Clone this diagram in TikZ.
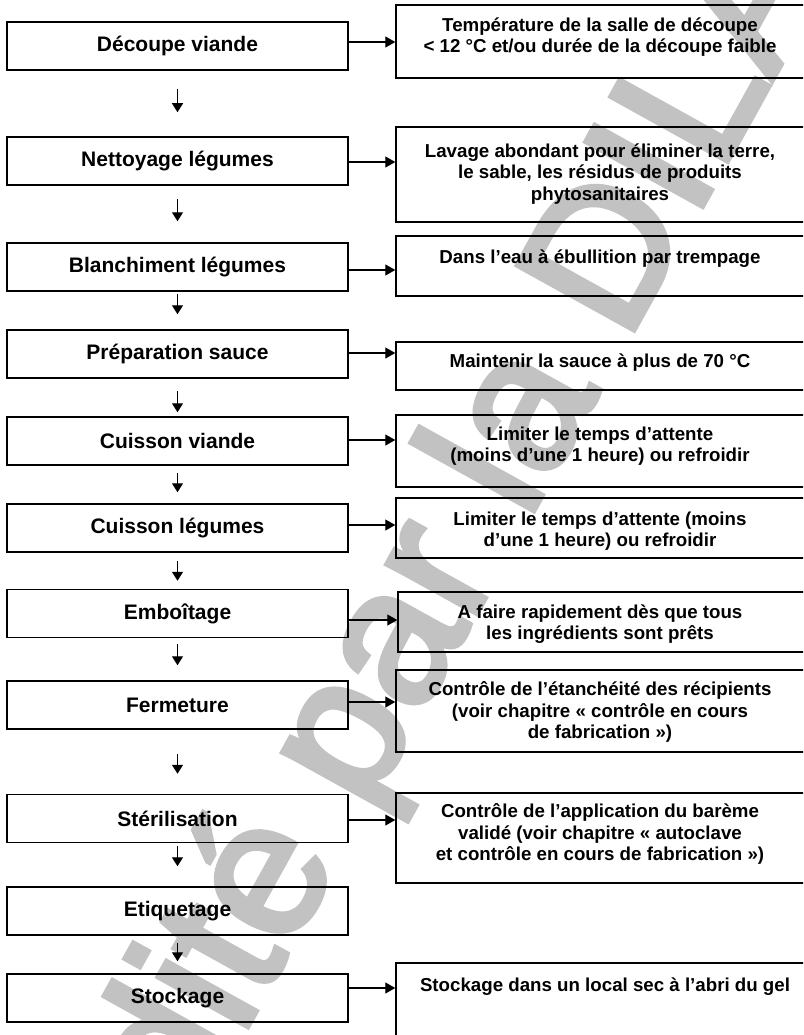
\documentclass[tikz,border=0pt]{standalone}
\usepackage{fontspec}
\setmainfont{Liberation Sans}
\newfontfamily\stampfont[FakeBold=3]{Liberation Sans}
\usetikzlibrary{arrows.meta}
\definecolor{stampgrey}{RGB}{194,194,194}
\begin{document}
\begin{tikzpicture}[x=1pt,y=-1pt,
  lbox/.style={draw, line width=1.5pt, minimum width=341pt, minimum height=48pt,
    inner sep=0pt, font=\fontsize{21}{24}\selectfont\bfseries},
  rbox/.style={draw, line width=1.5pt, inner sep=0pt},
  rtext/.style={align=center, inner sep=0pt,
    font=\fontsize{18.7}{21.5}\selectfont\bfseries},
  varr/.style={line width=1.3pt, -{Triangle[length=9pt,width=11pt]}},
  harr/.style={line width=1.3pt, -{Triangle[length=10pt,width=11pt]}},
  wm/.style={font=\stampfont\fontsize{193}{193}\selectfont, text=stampgrey,
    inner sep=0pt}]

\path[use as bounding box] (0,0) rectangle (803,1035);
\fill[white] (0,0) rectangle (803,1035);

\begin{scope}
\clip (0,0) rectangle (803,1035);

% publisher stamp behind the chart
\node[wm, rotate=61] (wm) at (425,575) {Édité par la DILA};

% process steps (left column)
\node[lbox] (L1)  at (177.5,46)   {Découpe viande};
\node[lbox] (L2)  at (177.5,161)  {Nettoyage légumes};
\node[lbox] (L3)  at (177.5,267)  {Blanchiment légumes};
\node[lbox] (L4)  at (177.5,354)  {Préparation sauce};
\node[lbox] (L5)  at (177.5,441)  {Cuisson viande};
\node[lbox] (L6)  at (177.5,528)  {Cuisson légumes};
\node[lbox] (L7)  at (177.5,613.5){Emboîtage};
\node[lbox] (L8)  at (177.5,705)  {Fermeture};
\node[lbox] (L9)  at (177.5,818.5){Stérilisation};
\node[lbox] (L10) at (177.5,911)  {Etiquetage};
\node[lbox] (L11) at (177.5,998)  {Stockage};

% control notes (right column, open to the right)
\node[rbox, minimum width=412pt, minimum height=73pt] (R1)  at (602,41.5) {};
\node[rbox, minimum width=412pt, minimum height=95pt] (R2)  at (602,174.5) {};
\node[rbox, minimum width=412pt, minimum height=60pt] (R3)  at (602,266) {};
\node[rbox, minimum width=412pt, minimum height=48pt] (R4)  at (602,366) {};
\node[rbox, minimum width=412pt, minimum height=72pt] (R5)  at (602,451) {};
\node[rbox, minimum width=412pt, minimum height=60pt] (R6)  at (602,528) {};
\node[rbox, minimum width=410pt, minimum height=60pt] (R7)  at (603,622) {};
\node[rbox, minimum width=412pt, minimum height=82pt] (R8)  at (602,711) {};
\node[rbox, minimum width=412pt, minimum height=90pt] (R9)  at (602,838) {};
\node[rbox, minimum width=412pt, minimum height=82pt] (R10) at (602,1004) {};

\node[rtext] (T1)  at (600,37)  {Température de la salle de découpe\\< 12 °C et/ou durée de la découpe faible};
\node[rtext] (T2)  at (600,174) {Lavage abondant pour éliminer la terre,\\le sable, les résidus de produits\\phytosanitaires};
\node[rtext] (T3)  at (600,259) {Dans l’eau à ébullition par trempage};
\node[rtext] (T4)  at (600,363) {Maintenir la sauce à plus de 70 °C};
\node[rtext] (T5)  at (600,446) {Limiter le temps d’attente\\(moins d’une 1 heure) ou refroidir};
\node[rtext] (T6)  at (600,531) {Limiter le temps d’attente (moins\\d’une 1 heure) ou refroidir};
\node[rtext] (T7)  at (600,624) {A faire rapidement dès que tous\\les ingrédients sont prêts};
\node[rtext] (T8)  at (600,712) {Contrôle de l’étanchéité des récipients\\(voir chapitre « contrôle en cours\\de fabrication »)};
\node[rtext] (T9)  at (600,834) {Contrôle de l’application du barème\\validé (voir chapitre « autoclave\\et contrôle en cours de fabrication »)};
\node[rtext] (T10) at (605,987) {Stockage dans un local sec à l’abri du gel};

% flow between steps
\draw[varr, shorten <=18pt, shorten >=24pt] (L1) -- (L2);
\draw[varr, shorten <=13pt, shorten >=21pt] (L2) -- (L3);
\draw[varr, shorten <=2pt,  shorten >=15pt] (L3) -- (L4);
\draw[varr, shorten <=12pt, shorten >=4pt]  (L4) -- (L5);
\draw[varr, shorten <=7pt,  shorten >=11pt] (L5) -- (L6);
\draw[varr, shorten <=8pt,  shorten >=8pt]  (L6) -- (L7);
\draw[varr, shorten <=6pt,  shorten >=15pt] (L7) -- (L8);
\draw[varr, shorten <=24pt, shorten >=20pt] (L8) -- (L9);
\draw[varr, shorten <=3pt,  shorten >=20pt] (L9) -- (L10);
\draw[varr, shorten <=7pt,  shorten >=12pt] (L10) -- (L11);

% links from steps to their notes
\draw[harr] (L1.east |- 0,42)   -- (R1.west |- 0,42);
\draw[harr] (L2.east |- 0,162)  -- (R2.west |- 0,162);
\draw[harr] (L3.east |- 0,270)  -- (R3.west |- 0,270);
\draw[harr] (L4.east |- 0,353)  -- (R4.west |- 0,353);
\draw[harr] (L5.east |- 0,440)  -- (R5.west |- 0,440);
\draw[harr] (L6.east |- 0,525)  -- (R6.west |- 0,525);
\draw[harr] (L7.east |- 0,620)  -- (R7.west |- 0,620);
\draw[harr] (L8.east |- 0,702)  -- (R8.west |- 0,702);
\draw[harr] (L9.east |- 0,820)  -- (R9.west |- 0,820);
\draw[harr] (L11.east |- 0,988) -- (R10.west |- 0,988);
\end{scope}
\end{tikzpicture}
\end{document}
